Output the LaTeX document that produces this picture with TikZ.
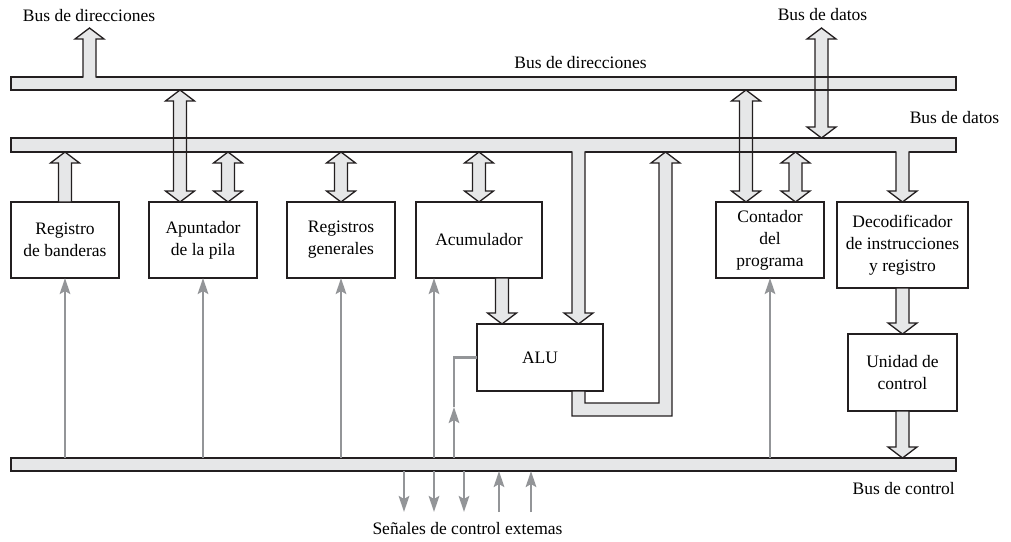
\documentclass[tikz,border=0pt]{standalone}
\usepackage{fontspec}
\setmainfont{Liberation Serif}
\usetikzlibrary{calc,arrows.meta}
\definecolor{barfill}{HTML}{E6E7E8}
\definecolor{barline}{HTML}{231F20}
\definecolor{ctlgray}{HTML}{939598}
\newcommand\BAw{6.5pt}
\newcommand\BAh{14.5pt}
\newcommand\BAl{11pt}
\tikzset{
  barr/.style={fill=barfill,draw=barline,line width=1.3pt,line join=miter},
  barrline/.style={draw=barline,line width=1.3pt,line join=miter},
  busbar/.style={rectangle,fill=barfill,draw=none,inner sep=0pt,outer sep=0pt},
  unitbox/.style={rectangle,draw=barline,line width=1.3pt,inner sep=0pt,outer sep=0pt,align=center,font=\fontsize{17.5}{22}\selectfont},
  lbl/.style={inner sep=0pt,font=\fontsize{17.5}{22}\selectfont},
  ctl/.style={draw=ctlgray,line width=2.6pt,-{Stealth[length=16pt,width=10.5pt,inset=3pt]}},
  ctlline/.style={draw=ctlgray,line width=2.6pt},
}
% double-headed vertical block arrow: #1 top tip, #2 bottom tip
\newcommand\BAdbl[2]{\path[barr] let \p1=(#1), \p2=(#2) in
  (\x1,\y1) -- (\x1+\BAh,\y1-\BAl) -- (\x1+\BAw,\y1-\BAl) -- (\x1+\BAw,\y2+\BAl)
  -- (\x1+\BAh,\y2+\BAl) -- (\x1,\y2) -- (\x1-\BAh,\y2+\BAl) -- (\x1-\BAw,\y2+\BAl)
  -- (\x1-\BAw,\y1-\BAl) -- (\x1-\BAh,\y1-\BAl) -- cycle;}
% up block arrow: #1 tip (top), #2 flat base (bottom)
\newcommand\BAup[2]{\path[barr] let \p1=(#1), \p2=(#2) in
  (\x1,\y1) -- (\x1+\BAh,\y1-\BAl) -- (\x1+\BAw,\y1-\BAl) -- (\x1+\BAw,\y2)
  -- (\x1-\BAw,\y2) -- (\x1-\BAw,\y1-\BAl) -- (\x1-\BAh,\y1-\BAl) -- cycle;}
% down block arrow: #1 flat top, #2 tip (bottom)
\newcommand\BAdown[2]{\path[barr] let \p1=(#1), \p2=(#2) in
  (\x1-\BAw,\y1) -- (\x1+\BAw,\y1) -- (\x1+\BAw,\y2+\BAl) -- (\x1+\BAh,\y2+\BAl)
  -- (\x1,\y2) -- (\x1-\BAh,\y2+\BAl) -- (\x1-\BAw,\y2+\BAl) -- cycle;}
% up stub out of a bus: #1 tip, #2 point on bus top edge
\newcommand\BAupstub[2]{%
  \path[fill=barfill] let \p1=(#1), \p2=(#2) in
  (\x1,\y1) -- (\x1+\BAh,\y1-\BAl) -- (\x1+\BAw,\y1-\BAl) -- (\x1+\BAw,\y2-1.5pt)
  -- (\x1-\BAw,\y2-1.5pt) -- (\x1-\BAw,\y1-\BAl) -- (\x1-\BAh,\y1-\BAl) -- cycle;
  \path[barrline] let \p1=(#1), \p2=(#2) in
  (\x1+\BAw,\y2-0.65pt) -- (\x1+\BAw,\y1-\BAl) -- (\x1+\BAh,\y1-\BAl) -- (\x1,\y1)
  -- (\x1-\BAh,\y1-\BAl) -- (\x1-\BAw,\y1-\BAl) -- (\x1-\BAw,\y2-0.65pt);}
% down stub out of a bus: #1 point on bus bottom edge, #2 tip
\newcommand\BAdownstub[2]{%
  \path[fill=barfill] let \p1=(#1), \p2=(#2) in
  (\x1-\BAw,\y1+1.5pt) -- (\x1+\BAw,\y1+1.5pt) -- (\x1+\BAw,\y2+\BAl) -- (\x1+\BAh,\y2+\BAl)
  -- (\x1,\y2) -- (\x1-\BAh,\y2+\BAl) -- (\x1-\BAw,\y2+\BAl) -- cycle;
  \path[barrline] let \p1=(#1), \p2=(#2) in
  (\x1+\BAw,\y1+0.65pt) -- (\x1+\BAw,\y2+\BAl) -- (\x1+\BAh,\y2+\BAl)
  -- (\x1,\y2) -- (\x1-\BAh,\y2+\BAl) -- (\x1-\BAw,\y2+\BAl) -- (\x1-\BAw,\y1+0.65pt);}

\begin{document}
\begin{tikzpicture}[x=1pt,y=-1pt]
\useasboundingbox (0,0) rectangle (1011,541);

% buses (fill only, outlines drawn later)
\node[busbar,minimum width=945pt,minimum height=13pt] (addrbus) at (483.5,83.5) {};
\node[busbar,minimum width=945pt,minimum height=14pt] (databus) at (483.5,145) {};
\node[busbar,minimum width=945pt,minimum height=13pt] (ctrlbus) at (483.5,464.5) {};

% units
\node[unitbox,minimum width=108pt,minimum height=76pt] (regban) at (65,240) {Registro\\de banderas};
\node[unitbox,minimum width=108pt,minimum height=76pt] (apunt) at (203,240) {Apuntador\\de la pila};
\node[unitbox,minimum width=108pt,minimum height=76pt] (reggen) at (341,240) {Registros\\generales};
\node[unitbox,minimum width=126pt,minimum height=76pt] (acum) at (479,240) {Acumulador};
\node[unitbox,minimum width=126pt,minimum height=67pt] (alu) at (540,357.5) {ALU};
\node[unitbox,minimum width=108pt,minimum height=76pt] (contador) at (770,240) {Contador\\del\\programa};
\node[unitbox,minimum width=131pt,minimum height=86pt] (decod) at (902.5,245) {Decodificador\\de instrucciones\\y registro};
\node[unitbox,minimum width=109pt,minimum height=77pt] (unidad) at (902.5,372.5) {Unidad de\\control};

% helper coordinates
\coordinate (addrout) at (89.5,28);
\coordinate (dataout) at (821.5,28);
\coordinate (xa1) at ($(apunt.north)+(-23,0)$);
\coordinate (xa2) at ($(apunt.north)+(25,0)$);
\coordinate (xb1) at ($(alu.north)+(-38,0)$);
\coordinate (xb2) at ($(alu.north)+(38.5,0)$);
\coordinate (xc1) at ($(contador.north)+(-24,0)$);
\coordinate (xc2) at ($(contador.north)+(25.5,0)$);
\coordinate (aluout) at ($(alu.south)+(38.5,0)$);
\coordinate (aluret) at ($(alu.south)+(125.5,0)$);

% block arrows
\BAdbl{xa1 |- addrbus.south}{xa1}
\BAdbl{xc1 |- addrbus.south}{xc1}
\BAdbl{dataout}{dataout |- databus.north}
\BAup{regban.north |- databus.south}{regban.north}
\BAdbl{xa2 |- databus.south}{xa2}
\BAdbl{reggen.north |- databus.south}{reggen.north}
\BAdbl{acum.north |- databus.south}{acum.north}
\BAdbl{xc2 |- databus.south}{xc2}
\BAdown{xb1 |- acum.south}{xb1}
\BAdown{decod.south}{unidad.north}
\BAdown{unidad.south}{unidad.south |- ctrlbus.north}
% ALU output loop back to data bus
\path[barr] let \p1=(aluout), \p2=(aluret |- databus.south) in
  (\x1-\BAw,\y1) -- (\x1-\BAw,\y1-25pt) -- (\x2+\BAw,\y1-25pt) -- (\x2+\BAw,\y2-\BAl)
  -- (\x2+\BAh,\y2-\BAl) -- (\x2,\y2) -- (\x2-\BAh,\y2-\BAl) -- (\x2-\BAw,\y2-\BAl)
  -- (\x2-\BAw,\y1-12pt) -- (\x1+\BAw,\y1-12pt) -- (\x1+\BAw,\y1) -- cycle;

% bus outlines
\draw[barrline] (addrbus.south west) rectangle (addrbus.north east);
\draw[barrline] (databus.south west) rectangle (databus.north east);
\draw[barrline] (ctrlbus.south west) rectangle (ctrlbus.north east);

% stubs joined to buses
\BAupstub{addrout}{addrout |- addrbus.north}
\BAdownstub{xb2 |- databus.south}{xb2}
\BAdownstub{decod.north |- databus.south}{decod.north}

% control lines
\draw[ctl] (regban.south |- ctrlbus.north) -- (regban.south);
\draw[ctl] (apunt.south |- ctrlbus.north) -- (apunt.south);
\draw[ctl] (reggen.south |- ctrlbus.north) -- (reggen.south);
\coordinate (xacc) at ($(acum.south)+(-45,0)$);
\draw[ctl] (xacc |- ctrlbus.north) -- (xacc);
\draw[ctl] (contador.south |- ctrlbus.north) -- (contador.south);
\coordinate (aluctl) at (454,407);
\draw[ctl] (aluctl |- ctrlbus.north) -- (aluctl);
\draw[ctlline] (aluctl) -- (aluctl |- alu.west) -- (alu.west);

% external control signals
\coordinate (e1) at (404,512);
\coordinate (e2) at (434,512);
\coordinate (e3) at (464,512);
\coordinate (e4) at (499,512);
\coordinate (e5) at (531,512);
\draw[ctl] (e1 |- ctrlbus.south) -- (e1);
\draw[ctl] (e2 |- ctrlbus.south) -- (e2);
\draw[ctl] (e3 |- ctrlbus.south) -- (e3);
\draw[ctl] (e4) -- (e4 |- ctrlbus.south);
\draw[ctl] (e5) -- (e5 |- ctrlbus.south);

% labels
\node[lbl,anchor=base] (l1) at (89,21) {Bus de direcciones};
\node[lbl,anchor=base] (l2) at (580.5,68) {Bus de direcciones};
\node[lbl,anchor=base] (l3) at (822.5,20) {Bus de datos};
\node[lbl,anchor=base] (l4) at (954.5,123) {Bus de datos};
\node[lbl,anchor=base east] (l5) at (955,494) {Bus de control};
\node[lbl,anchor=base] (l6) at (467.5,534) {Señales de control extemas};
\end{tikzpicture}
\end{document}
